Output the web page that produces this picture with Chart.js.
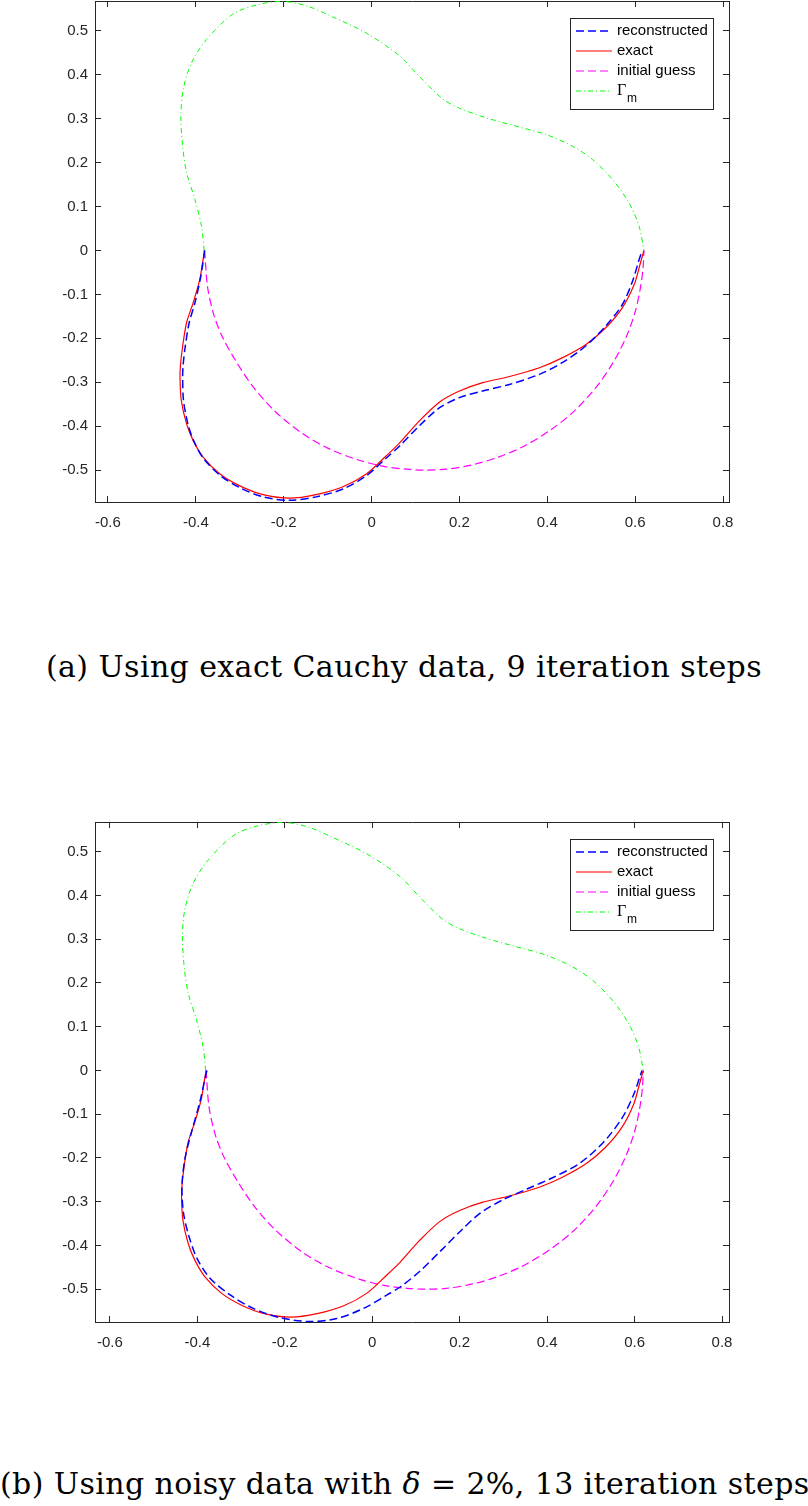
<!DOCTYPE html>
<html>
<head>
<meta charset="utf-8">
<script src="https://cdn.jsdelivr.net/npm/chart.js@4.4.1/dist/chart.umd.min.js"></script>
<style>
  body { margin: 0; background: #fff; width: 808px; height: 1506px; position: relative; overflow: hidden; }
  canvas { position: absolute; left: 0; }
  .cap { position: absolute; left: 0; width: 808px; text-align: center; white-space: nowrap;
         font-family: "DejaVu Serif", serif; font-size: 30px; line-height: 30px; letter-spacing: 0.4px; color: #000; }
</style>
</head>
<body>
<canvas id="chart1" width="808" height="540" style="top:0px"></canvas>
<div class="cap" style="top:652px">(a) Using exact Cauchy data, 9 iteration steps</div>
<canvas id="chart2" width="808" height="540" style="top:820px"></canvas>
<div class="cap" style="top:1469px">(b) Using noisy data with <i>δ</i> = 2%, 13 iteration steps</div>

<script>
// tick values
var xTicks = [-0.6, -0.4, -0.2, 0, 0.2, 0.4, 0.6, 0.8];
var yTicks = [-0.5, -0.4, -0.3, -0.2, -0.1, 0, 0.1, 0.2, 0.3, 0.4, 0.5];

var seriesNames = ['reconstructed', 'exact', 'initial guess', 'Γm'];

// Gamma_m (upper measured part of boundary)
var gammaM = [[-0.381, 0.0], [-0.387, 0.055], [-0.402, 0.116], [-0.421, 0.177], [-0.430, 0.237],
  [-0.434, 0.305], [-0.429, 0.366], [-0.410, 0.427], [-0.376, 0.480], [-0.316, 0.538],
  [-0.258, 0.560], [-0.200, 0.567], [-0.145, 0.556], [-0.089, 0.532], [-0.012, 0.495],
  [0.064, 0.443], [0.109, 0.396], [0.162, 0.345], [0.200, 0.324], [0.261, 0.302],
  [0.329, 0.283], [0.397, 0.264], [0.458, 0.237], [0.503, 0.207], [0.549, 0.161],
  [0.586, 0.108], [0.609, 0.055], [0.620, 0.0]];

// exact lower boundary
var exactCurve = [[-0.380, 0.0], [-0.385, -0.030], [-0.391, -0.066], [-0.406, -0.119], [-0.421, -0.164],
  [-0.430, -0.218], [-0.435, -0.262], [-0.436, -0.289], [-0.433, -0.342], [-0.421, -0.395], [-0.406, -0.433],
  [-0.383, -0.471], [-0.345, -0.509], [-0.300, -0.536], [-0.247, -0.556], [-0.186, -0.564],
  [-0.126, -0.556], [-0.065, -0.538], [-0.012, -0.509], [0.033, -0.468], [0.064, -0.438],
  [0.109, -0.388], [0.155, -0.345], [0.200, -0.320], [0.253, -0.301], [0.314, -0.287],
  [0.382, -0.267], [0.435, -0.244], [0.488, -0.214], [0.533, -0.176], [0.571, -0.130],
  [0.598, -0.077], [0.611, -0.032], [0.620, 0.0]];

// initial guess
var initialGuess = [[-0.380, 0.0], [-0.373, -0.085], [-0.358, -0.150], [-0.338, -0.200], [-0.310, -0.250],
  [-0.270, -0.310], [-0.220, -0.366], [-0.160, -0.415], [-0.100, -0.450], [-0.030, -0.477],
  [0.030, -0.492], [0.080, -0.498], [0.120, -0.500], [0.170, -0.498], [0.230, -0.488],
  [0.290, -0.470], [0.350, -0.444], [0.410, -0.407], [0.460, -0.367], [0.510, -0.313],
  [0.550, -0.255], [0.580, -0.196], [0.600, -0.140], [0.612, -0.085], [0.618, -0.040], [0.620, 0.0]];

// reconstruction, exact Cauchy data (a)
var reconA = [[-0.380, 0.0], [-0.384, -0.030], [-0.390, -0.066], [-0.402, -0.119], [-0.415, -0.164],
  [-0.424, -0.218], [-0.429, -0.262], [-0.430, -0.289], [-0.428, -0.342], [-0.418, -0.395], [-0.405, -0.433],
  [-0.383, -0.473], [-0.345, -0.512], [-0.300, -0.540], [-0.247, -0.561], [-0.186, -0.569],
  [-0.126, -0.561], [-0.065, -0.543], [-0.012, -0.513], [0.033, -0.473], [0.064, -0.445],
  [0.109, -0.399], [0.155, -0.358], [0.200, -0.335], [0.253, -0.320], [0.314, -0.305],
  [0.382, -0.282], [0.435, -0.255], [0.488, -0.217], [0.533, -0.172], [0.571, -0.123],
  [0.594, -0.070], [0.608, -0.024], [0.616, 0.0]];

// reconstruction, noisy data (b)
var reconB = [[-0.378, 0.0], [-0.381, -0.012], [-0.394, -0.071], [-0.413, -0.140], [-0.428, -0.200],
  [-0.435, -0.262], [-0.432, -0.323], [-0.420, -0.376], [-0.401, -0.429], [-0.371, -0.475],
  [-0.325, -0.513], [-0.272, -0.544], [-0.211, -0.565], [-0.142, -0.574], [-0.081, -0.567],
  [-0.020, -0.544], [0.034, -0.513], [0.064, -0.495], [0.110, -0.458], [0.156, -0.413],
  [0.201, -0.368], [0.247, -0.326], [0.300, -0.295], [0.354, -0.271], [0.415, -0.244],
  [0.476, -0.211], [0.529, -0.164], [0.572, -0.108], [0.598, -0.055], [0.612, -0.015], [0.617, 0.0]];

var axisColor = '#262626';
var tickFont = { family: 'Liberation Sans', size: 15 };

function pts(arr) {
  return arr.map(function (p) { return { x: p[0], y: p[1] }; });
}

function axis(pos, range, vals, showLabels, size, pad) {
  var horiz = (pos === 'top' || pos === 'bottom');
  return {
    type: 'linear',
    position: pos,
    min: range[0],
    max: range[1],
    afterBuildTicks: function (s) { s.ticks = vals.map(function (v) { return { value: v }; }); },
    afterFit: function (s) {
      if (horiz) s.height = size; else s.width = size;
      // labels sit well inside the range, no extra room needed
      s.paddingTop = 0; s.paddingBottom = 0; s.paddingLeft = 0; s.paddingRight = 0;
    },
    grid: { drawOnChartArea: false, drawTicks: true, tickLength: -6, tickColor: axisColor, tickWidth: 1 },
    border: { display: true, color: axisColor, width: 1 },
    ticks: { display: showLabels, color: axisColor, font: tickFont, padding: pad,
      callback: function (v) { return String(v); } }
  };
}

// legend drawn inside the axes, MATLAB style
var boxLegend = {
  id: 'boxLegend',
  afterDraw: function (chart) {
    var ctx = chart.ctx, ca = chart.chartArea;
    var w = 143, h = 91;
    var x0 = ca.right - 16 - w, y0 = ca.top + 17;
    ctx.save();
    ctx.fillStyle = '#fff';
    ctx.fillRect(x0, y0, w, h);
    ctx.strokeStyle = axisColor;
    ctx.lineWidth = 1;
    ctx.strokeRect(x0 + 0.5, y0 + 0.5, w, h);
    chart.data.datasets.forEach(function (ds, i) {
      var y = y0 + 13 + i * 20;
      ctx.beginPath();
      ctx.setLineDash(ds.borderDash || []);
      ctx.strokeStyle = ds.borderColor;
      ctx.lineWidth = ds.borderWidth;
      ctx.moveTo(x0 + 6, y);
      ctx.lineTo(x0 + 42, y);
      ctx.stroke();
      ctx.setLineDash([]);
      ctx.fillStyle = '#000';
      ctx.textBaseline = 'middle';
      var name = ds.label;
      if (name.charAt(0) === 'Γ') {
        ctx.font = '16px "Liberation Serif"';
        ctx.fillText('Γ', x0 + 47, y);
        ctx.font = '12px "Liberation Sans"';
        ctx.fillText(name.slice(1), x0 + 57, y + 8);
      } else {
        ctx.font = '15px "Liberation Sans"';
        ctx.fillText(name, x0 + 47, y);
      }
    });
    ctx.restore();
  }
};

function makeChart(id, recon, xr, yr, padTop) {
  var ctx = document.getElementById(id).getContext('2d');
  return new Chart(ctx, {
    type: 'scatter',
    data: {
      datasets: [
        { label: seriesNames[0], data: pts(recon), borderColor: '#0000ff', borderWidth: 1.5, borderDash: [8, 4] },
        { label: seriesNames[1], data: pts(exactCurve), borderColor: '#ff0000', borderWidth: 1.2 },
        { label: seriesNames[2], data: pts(initialGuess), borderColor: '#ff00ff', borderWidth: 1.2, borderDash: [8, 4] },
        { label: seriesNames[3], data: pts(gammaM), borderColor: '#00ff00', borderWidth: 1, borderDash: [5, 3, 1, 3] }
      ]
    },
    options: {
      responsive: false,
      animation: false,
      showLine: true,
      elements: { point: { radius: 0 }, line: { tension: 0.3, fill: false } },
      layout: { padding: { left: 0, right: 79, top: padTop, bottom: 0 } },
      plugins: { legend: { display: false }, tooltip: { enabled: false } },
      scales: {
        x: axis('bottom', xr, xTicks, true, 38, 18),
        x2: axis('top', xr, xTicks, false, 0, 0),
        y: axis('left', yr, yTicks, true, 95, 13),
        y2: axis('right', yr, yTicks, false, 0, 0)
      }
    },
    plugins: [boxLegend]
  });
}

makeChart('chart1', reconA, [-0.6295, 0.8136], [-0.5727, 0.568], 1);
makeChart('chart2', reconB, [-0.634, 0.816], [-0.575, 0.568], 2);
</script>
</body>
</html>
